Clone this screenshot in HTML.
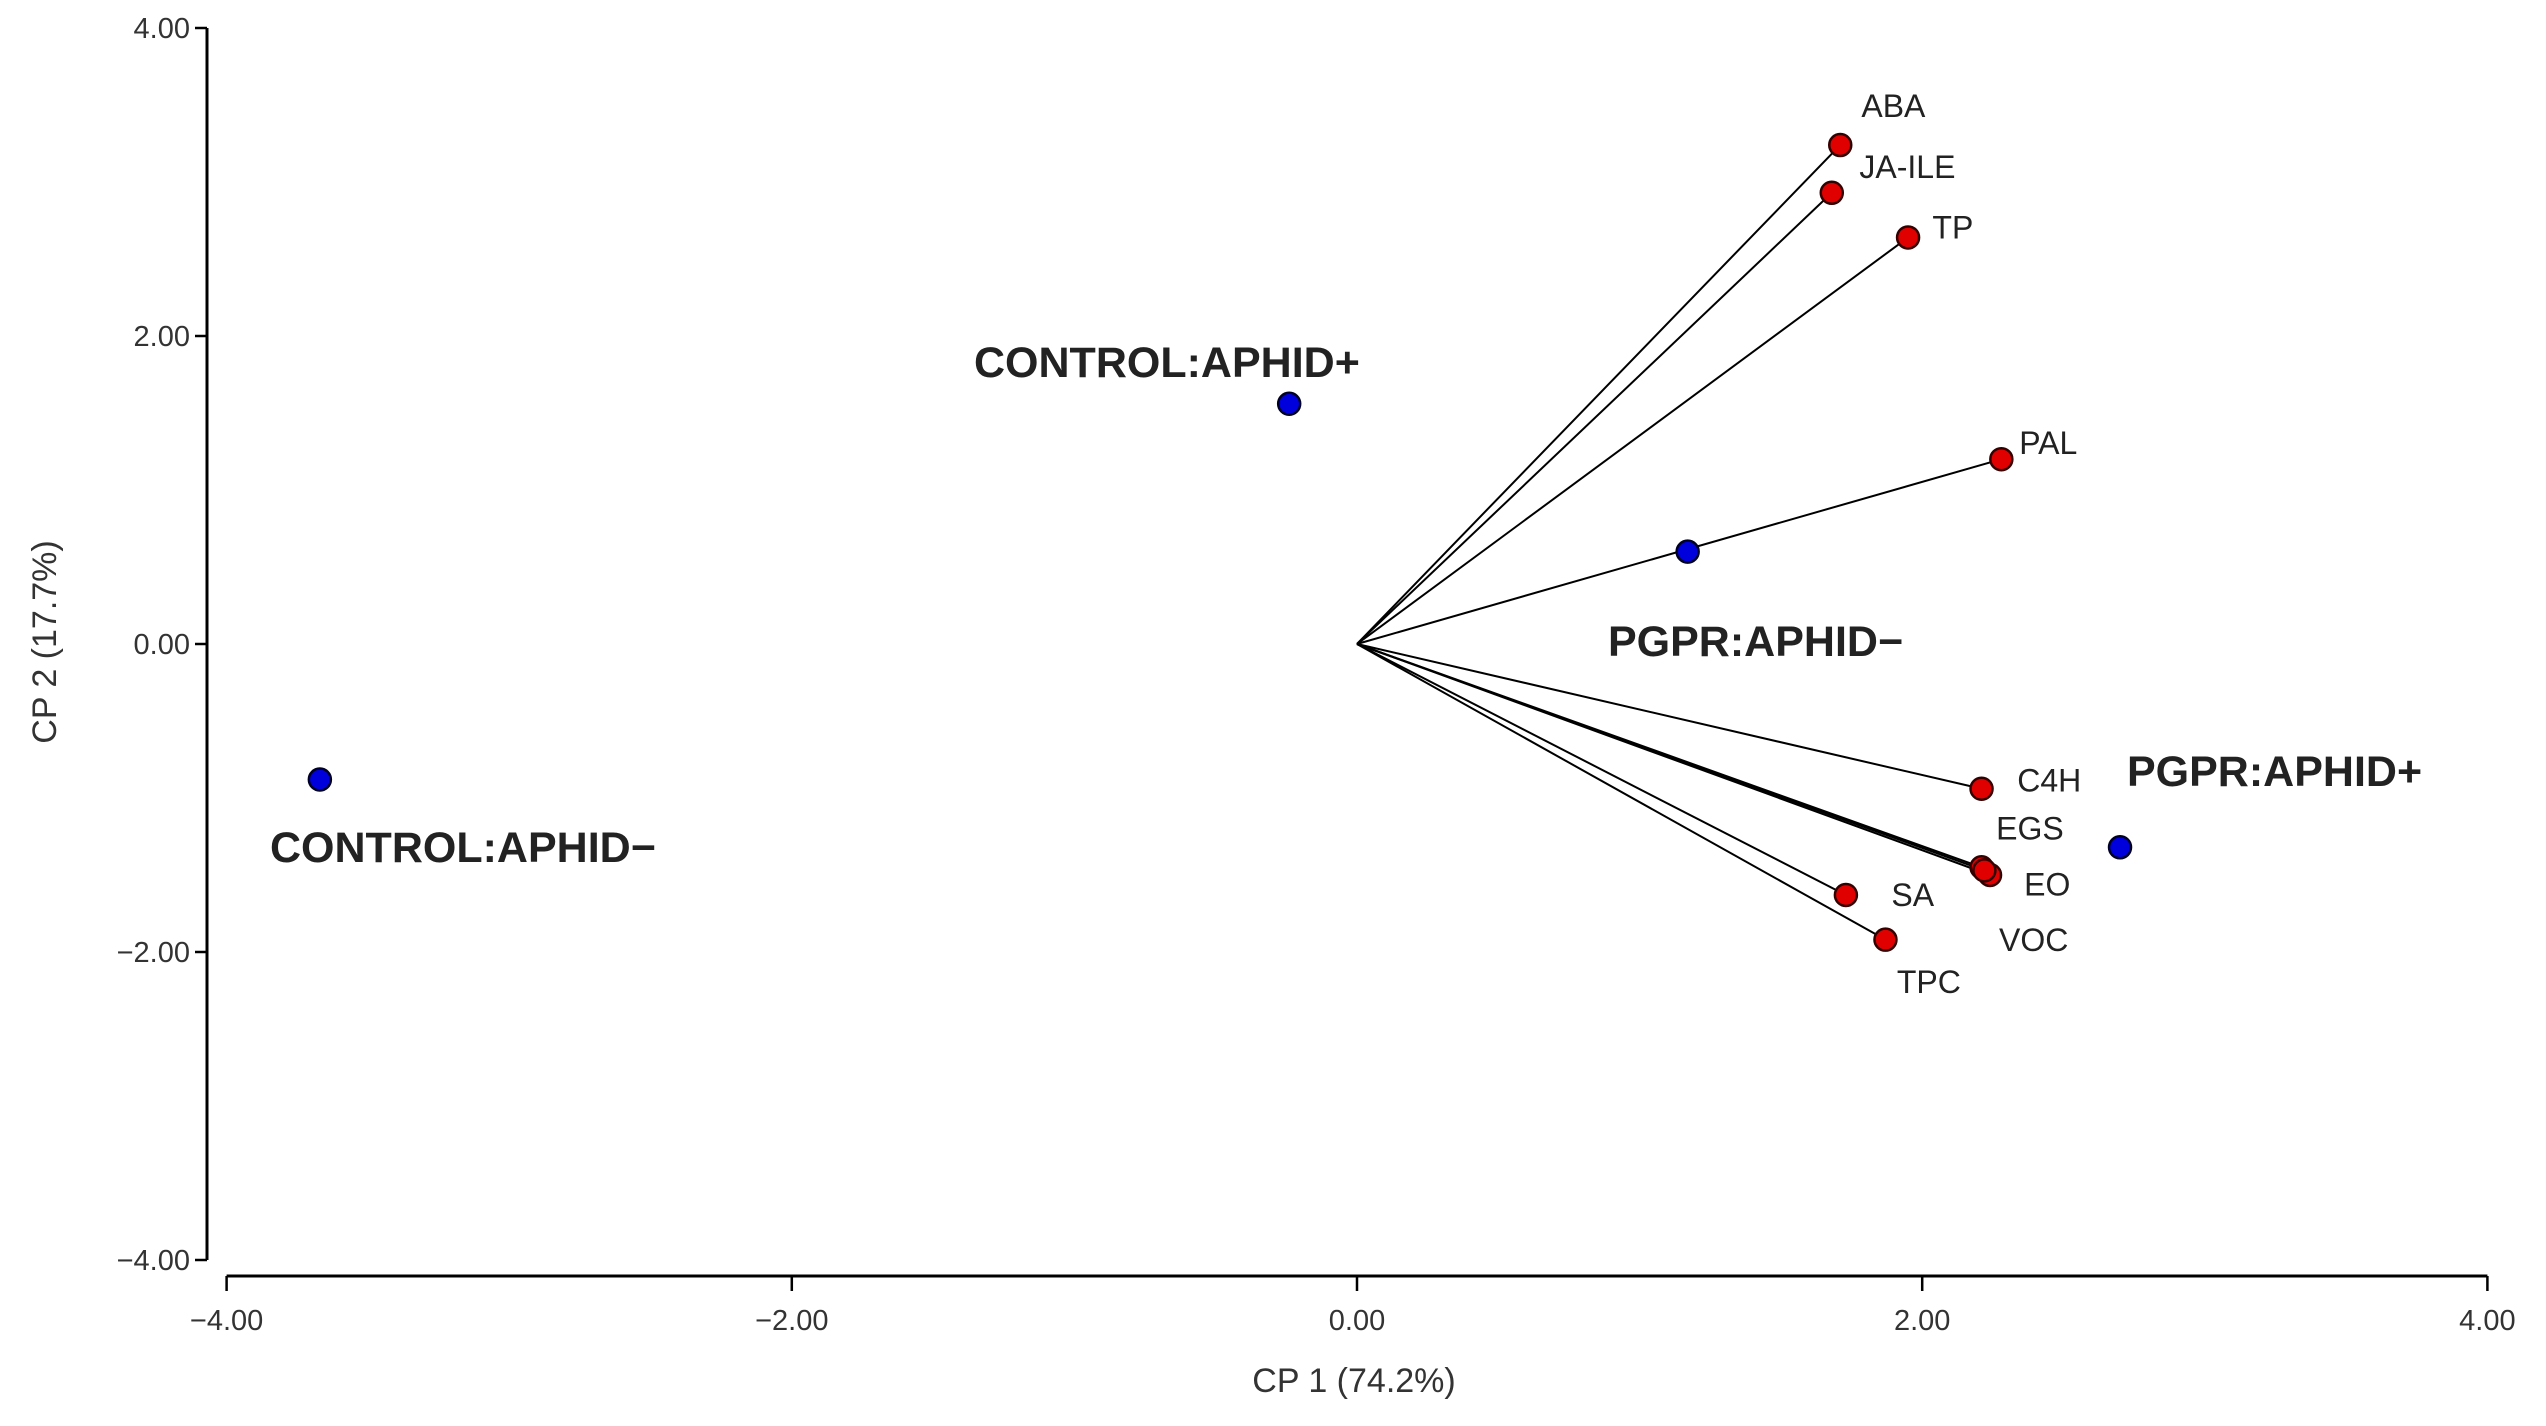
<!DOCTYPE html>
<html><head><meta charset="utf-8"><style>
html,body{margin:0;padding:0;background:#fff}
svg{display:block}
text{font-family:"Liberation Sans",sans-serif}
</style></head><body>
<svg id="chart" width="2546" height="1426" viewBox="0 0 2546 1426" xmlns="http://www.w3.org/2000/svg">
<g id="axes"></g>
<g id="vectors"></g>
<g id="marks"></g>
</svg>
<script>
const varNames = ["ABA","JA-ILE","TP","PAL","C4H","EGS","EO","VOC","SA","TPC"];
const varX = [1.71,1.68,1.95,2.28,2.21,2.21,2.24,2.22,1.73,1.87];
const varY = [3.24,2.93,2.64,1.20,-0.94,-1.45,-1.50,-1.47,-1.63,-1.92];
const grpNames = ["CONTROL:APHID+","CONTROL:APHID\u2212","PGPR:APHID\u2212","PGPR:APHID+"];
const grpX = [-0.24,-3.67,1.17,2.70];
const grpY = [1.56,-0.88,0.60,-1.32];
const ticks = [-4,-2,0,2,4];
const tickLabels = ["\u22124.00","\u22122.00","0.00","2.00","4.00"];

const NS="http://www.w3.org/2000/svg";
const sx = v => 1357 + v*282.6;
const sy = v => 644 - v*154;
function mk(tag, attrs, parent, txt){
  const e=document.createElementNS(NS,tag);
  for(const k in attrs) e.setAttribute(k,attrs[k]);
  if(txt!==undefined) e.textContent=txt;
  parent.appendChild(e); return e;
}
const axes=document.getElementById('axes'), vec=document.getElementById('vectors'), marks=document.getElementById('marks');
let ya=mk('line',{x1:207,y1:sy(4),x2:207,y2:sy(-4),stroke:'#000','stroke-width':3},axes);


let xa=mk('line',{x1:sx(-4),y1:1276,x2:sx(4),y2:1276,stroke:'#000','stroke-width':3},axes);


ticks.forEach((t,i)=>{
  let a=mk('line',{x1:195,y1:sy(t),x2:207,y2:sy(t),stroke:'#000','stroke-width':2.5},axes);
  
  
  let b=mk('text',{x:190,y:sy(t)+10,'text-anchor':'end','font-size':29,fill:'#333'},axes,tickLabels[i]);
  
  
  let c=mk('line',{x1:sx(t),y1:1276,x2:sx(t),y2:1291,stroke:'#000','stroke-width':2.5},axes);
  
  
  let d=mk('text',{x:sx(t),y:1330,'text-anchor':'middle','font-size':29,fill:'#333'},axes,tickLabels[i]);
  
  
});
let xt=mk('text',{x:1354,y:1392,'text-anchor':'middle','font-size':34,fill:'#333'},axes,'CP 1 (74.2%)');


let yt=mk('text',{x:0,y:0,'text-anchor':'middle','font-size':34,fill:'#333',transform:'translate(56,642) rotate(-90)'},axes,'CP 2 (17.7%)');



const lblDX=[13,17,15,11,22,9,21,9,28,7].map(v=>v*1.624);
const lblDY=[-24,-16,-6,-10,-5,-24,6,43,0,26].map(v=>v*1.624);
varNames.forEach((n,i)=>{
  let l=mk('line',{x1:sx(0),y1:sy(0),x2:sx(varX[i]),y2:sy(varY[i]),stroke:'#000','stroke-width':2},vec);
  
  
});
varNames.forEach((n,i)=>{
  let c=mk('circle',{cx:sx(varX[i]),cy:sy(varY[i]),r:11,fill:'#e00000',stroke:'#300','stroke-width':2.5},marks);
  
  
  let t=mk('text',{x:sx(varX[i])+lblDX[i],y:sy(varY[i])+lblDY[i]+11,'font-size':32,fill:'#222'},marks,n);
  
  
});
const gLX=[974,270,1608,2127], gLY=[377,862,656,786];
grpNames.forEach((n,i)=>{
  let c=mk('circle',{cx:sx(grpX[i]),cy:sy(grpY[i]),r:11,fill:'#0000dd',stroke:'#002','stroke-width':2.5},marks);
  
  
  let t=mk('text',{x:gLX[i],y:gLY[i],'font-size':43,'font-weight':'bold',fill:'#222'},marks,n);
  
  
});
</script>
</body></html>
